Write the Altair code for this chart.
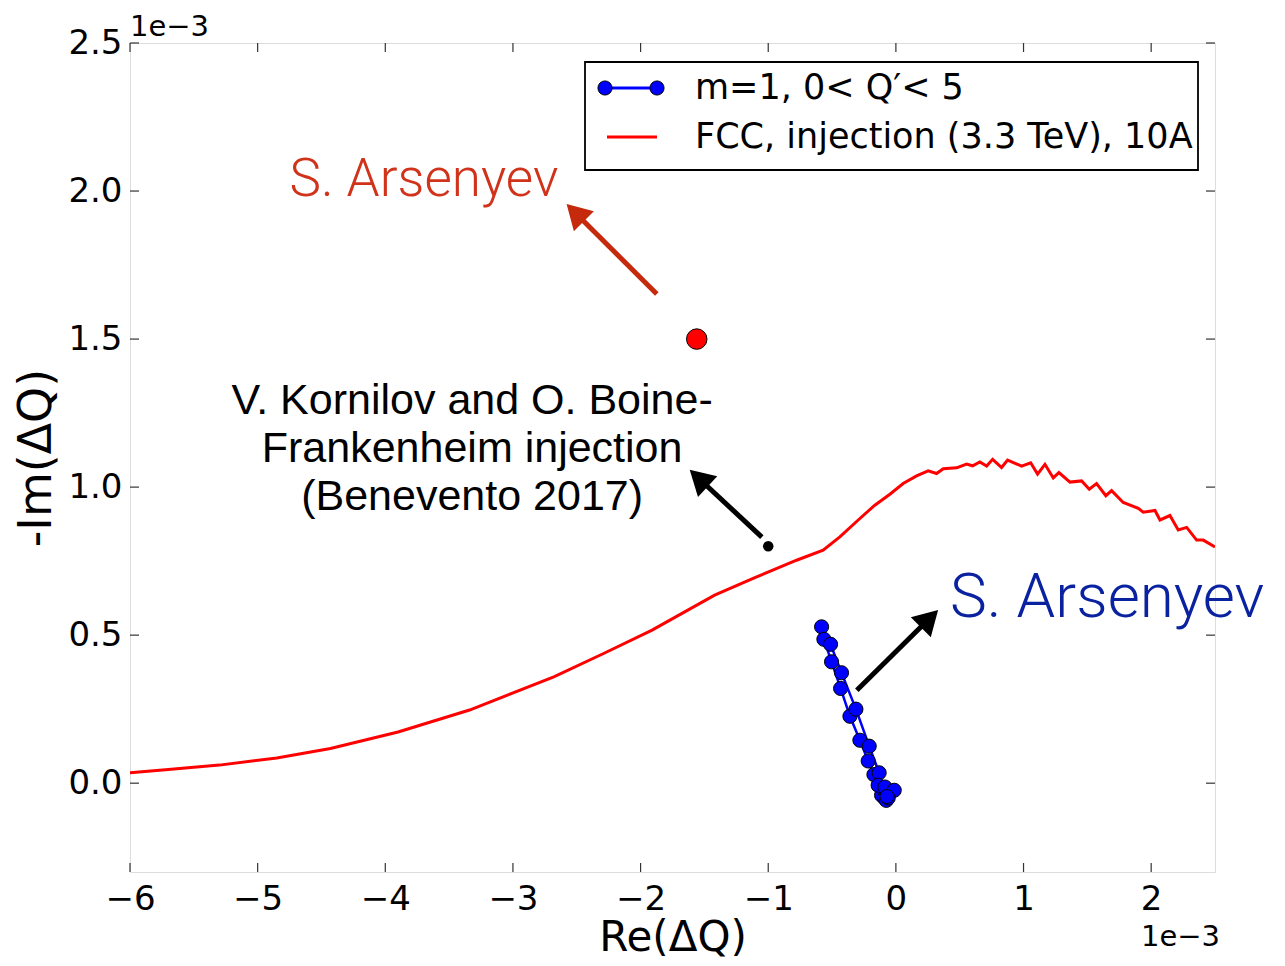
import altair as alt
import pandas as pd

W, H = 1085, 829

# ---- data (units of 1e-3) ----
fcc_re = [-6.0, -5.70, -5.30, -4.85, -4.43, -3.90, -3.34, -2.68, -2.29, -1.91, -1.42, -1.10,
          -0.778, -0.570, -0.439, -0.282, -0.165, -0.047, 0.057, 0.162, 0.253, 0.319, 0.371,
          0.476, 0.554, 0.601, 0.658, 0.711, 0.758, 0.828, 0.875, 0.985, 1.056, 1.110, 1.168,
          1.233, 1.277, 1.364, 1.455, 1.515, 1.572, 1.645, 1.690, 1.781, 1.899, 1.938, 2.030,
          2.069, 2.147, 2.212, 2.278, 2.356, 2.408, 2.50]
fcc_im = [0.035, 0.046, 0.061, 0.085, 0.117, 0.173, 0.247, 0.359, 0.438, 0.517, 0.635, 0.695,
          0.753, 0.787, 0.832, 0.894, 0.939, 0.976, 1.012, 1.038, 1.055, 1.046, 1.062,
          1.065, 1.078, 1.072, 1.085, 1.071, 1.094, 1.066, 1.091, 1.071, 1.082, 1.044, 1.077,
          1.031, 1.049, 1.017, 1.021, 0.993, 1.012, 0.971, 0.988, 0.948, 0.928, 0.915, 0.921,
          0.889, 0.904, 0.855, 0.864, 0.821, 0.821, 0.798]

m1_a_re = [-0.582, -0.564, -0.504, -0.433, -0.360, -0.282, -0.217, -0.172, -0.112, -0.090, -0.075]
m1_a_im = [0.528, 0.486, 0.410, 0.320, 0.226, 0.145, 0.075, 0.029, -0.041, -0.050, -0.058]
m1_b_re = [-0.512, -0.426, -0.313, -0.209, -0.131, -0.139, -0.086, -0.013, -0.060, -0.070]
m1_b_im = [0.469, 0.373, 0.250, 0.125, 0.035, -0.007, -0.013, -0.024, -0.050, -0.045]

arsenyev_red_re = [-1.56]
arsenyev_red_im = [1.50]
kornilov_re = [-1.0]
kornilov_im = [0.80]

x_ticks = [-6, -5, -4, -3, -2, -1, 0, 1, 2]
y_ticks = [0.0, 0.5, 1.0, 1.5, 2.0, 2.5]

# arrows: tail (x, y) -> head (x2, y2), head angle in degrees
arrow_x = [-1.873, -1.050, -0.306]
arrow_y = [1.652, 0.831, 0.314]
arrow_x2 = [-2.512, -1.545, 0.263]
arrow_y2 = [1.927, 1.030, 0.556]
arrow_angle = [315, 313, 45]
arrow_color = ["#c62a0c", "#000000", "#000000"]

legend_labels = ["m=1, 0< Q′< 5", "FCC, injection (3.3 TeV), 10A"]

XS = alt.Scale(domain=[-6, 2.5], nice=False, zero=False)
YS = alt.Scale(domain=[-0.3, 2.5], nice=False, zero=False)

fcc = pd.DataFrame({"re": fcc_re, "im": fcc_im, "i": range(len(fcc_re))})
m1 = pd.concat([
    pd.DataFrame({"re": m1_a_re, "im": m1_a_im, "branch": "a", "i": range(len(m1_a_re))}),
    pd.DataFrame({"re": m1_b_re, "im": m1_b_im, "branch": "b", "i": range(len(m1_b_re))}),
])
arrows = pd.DataFrame({"re": arrow_x, "im": arrow_y, "x2": arrow_x2, "y2": arrow_y2,
                       "angle": arrow_angle, "color": arrow_color})

x_enc = alt.X("re:Q", scale=XS, axis=alt.Axis(
    title="Re(ΔQ)", values=x_ticks, format="d", grid=False, ticks=False, tickSize=0,
    domain=False, labelFontSize=34, labelPadding=10, labelFont="DejaVu Sans",
    labelColor="black", labelFlush=False, labelOverlap=False,
    titleFont="DejaVu Sans", titleFontSize=42, titleFontWeight="normal",
    titleColor="black", titleY=78, titleBaseline="alphabetic"))
y_enc = alt.Y("im:Q", scale=YS, axis=alt.Axis(
    title="-Im(ΔQ)", values=y_ticks, format=".1f", grid=False, ticks=False, tickSize=0,
    domain=False, labelFontSize=34, labelPadding=8, labelFont="DejaVu Sans",
    labelColor="black", labelFlush=False, labelOverlap=False,
    titleFont="DejaVu Sans", titleFontSize=46, titleFontWeight="normal",
    titleColor="black", titleX=-80, titleY=H / 2, titleAngle=270, titleAlign="center",
    titleBaseline="alphabetic"))

X = alt.X("re:Q", scale=XS)
Y = alt.Y("im:Q", scale=YS)

fcc_line = alt.Chart(fcc).mark_line(color="#ff0000", strokeWidth=3, clip=True).encode(
    x=x_enc, y=y_enc, order="i:Q")

m1_line = alt.Chart(m1).mark_line(color="#0000ff", strokeWidth=2.5).encode(
    x=X, y=Y, detail="branch:N", order="i:Q")
m1_pts = alt.Chart(m1).mark_point(filled=True, fill="#0000ff", fillOpacity=1, stroke="black",
                                  strokeWidth=1, size=200, opacity=1).encode(x=X, y=Y)

red_pt = alt.Chart(pd.DataFrame({"re": arsenyev_red_re, "im": arsenyev_red_im})).mark_point(
    filled=True, fill="#ff0000", fillOpacity=1, stroke="black", strokeWidth=1, size=420,
    opacity=1).encode(x=X, y=Y)
black_pt = alt.Chart(pd.DataFrame({"re": kornilov_re, "im": kornilov_im})).mark_point(
    filled=True, fill="black", fillOpacity=1, size=110, opacity=1).encode(x=X, y=Y)

shafts = alt.Chart(arrows).mark_rule(strokeWidth=5).encode(
    x=X, y=Y, x2="x2:Q", y2="y2:Q", color=alt.Color("color:N", scale=None))
heads = alt.Chart(arrows).mark_point(shape="triangle-up", filled=True, size=800,
                                     fillOpacity=1, opacity=1).encode(
    x=alt.X("x2:Q", scale=XS), y=alt.Y("y2:Q", scale=YS),
    angle=alt.Angle("angle:Q", scale=None), color=alt.Color("color:N", scale=None))

# annotation texts (anchored in data coordinates)
ann_red = alt.Chart(pd.DataFrame({"t": ["S. Arsenyev"], "re": [-4.75], "im": [2.037]})).mark_text(
    font="Roboto", fontWeight=300, fontSize=53, color="#d0321a", align="left",
    baseline="middle").encode(x=X, y=Y, text="t:N")
ann_blue = alt.Chart(pd.DataFrame({"t": ["S. Arsenyev"], "re": [0.423], "im": [0.625]})).mark_text(
    font="Roboto", fontWeight=300, fontSize=62, color="#0a22a0", align="left",
    baseline="middle").encode(x=X, y=Y, text="t:N")
ann_k = alt.Chart(pd.DataFrame({
    "t": ["V. Kornilov and O. Boine-", "Frankenheim injection", "(Benevento 2017)"],
    "re": [-3.32, -3.32, -3.32], "im": [1.291, 1.128, 0.966]})).mark_text(
    font="Liberation Sans", fontSize=43, color="black", align="center",
    baseline="middle").encode(x=X, y=Y, text="t:N")

# inward ticks on all four sides
tick_x_df = pd.DataFrame({"re": x_ticks})
tick_y_df = pd.DataFrame({"im": y_ticks})
tk = dict(color="#333333", strokeWidth=1.2)
t_bottom = alt.Chart(tick_x_df).mark_rule(**tk).encode(x=X, y=alt.value(H - 9), y2=alt.value(H))
t_top = alt.Chart(tick_x_df).mark_rule(**tk).encode(x=X, y=alt.value(0), y2=alt.value(9))
t_left = alt.Chart(tick_y_df).mark_rule(**tk).encode(y=Y, x=alt.value(0), x2=alt.value(9))
t_right = alt.Chart(tick_y_df).mark_rule(**tk).encode(y=Y, x=alt.value(W - 9), x2=alt.value(W))

# offset texts
off_df = pd.DataFrame({"t": ["1e−3"]})
off_top = alt.Chart(off_df).mark_text(font="DejaVu Sans", fontSize=29, color="black",
                                      align="left", baseline="alphabetic").encode(
    x=alt.value(0), y=alt.value(-7), text="t:N")
off_bot = alt.Chart(off_df).mark_text(font="DejaVu Sans", fontSize=29, color="black",
                                      align="right", baseline="alphabetic").encode(
    x=alt.value(W + 5), y=alt.value(H + 74), text="t:N")

# legend
one = pd.DataFrame({"k": [0]})
leg_box = alt.Chart(one).mark_rect(fill="white", stroke="black", strokeWidth=1.8).encode(
    x=alt.value(455), x2=alt.value(1068), y=alt.value(19), y2=alt.value(127))
leg_blue_line = alt.Chart(one).mark_rule(color="#0000ff", strokeWidth=3).encode(
    x=alt.value(475), x2=alt.value(527), y=alt.value(45))
leg_blue_p1 = alt.Chart(one).mark_point(
    filled=True, fill="#0000ff", fillOpacity=1, stroke="black", strokeWidth=1, size=200,
    opacity=1).encode(x=alt.value(475), y=alt.value(45))
leg_blue_p2 = alt.Chart(one).mark_point(
    filled=True, fill="#0000ff", fillOpacity=1, stroke="black", strokeWidth=1, size=200,
    opacity=1).encode(x=alt.value(527), y=alt.value(45))
leg_red_line = alt.Chart(one).mark_rule(color="#ff0000", strokeWidth=3).encode(
    x=alt.value(477), x2=alt.value(527), y=alt.value(94))
leg_t1 = alt.Chart(pd.DataFrame({"t": [legend_labels[0]]})).mark_text(
    font="DejaVu Sans", fontSize=35, color="black", align="left", baseline="middle").encode(
    x=alt.value(565), y=alt.value(45), text="t:N")
leg_t2 = alt.Chart(pd.DataFrame({"t": [legend_labels[1]]})).mark_text(
    font="DejaVu Sans", fontSize=35, color="black", align="left", baseline="middle").encode(
    x=alt.value(565), y=alt.value(94), text="t:N")

chart = alt.layer(
    fcc_line, m1_line, m1_pts, red_pt, black_pt, shafts, heads,
    ann_red, ann_blue, ann_k,
    t_bottom, t_top, t_left, t_right, off_top, off_bot,
    leg_box, leg_blue_line, leg_blue_p1, leg_blue_p2, leg_red_line, leg_t1, leg_t2,
).properties(
    width=W, height=H,
    autosize=alt.AutoSizeParams(type="none"),
    padding={"left": 122, "top": 35, "right": 62, "bottom": 86},
).configure_view(stroke="black", strokeWidth=2).configure(background="white")

chart.save("out.html", embed_options={"renderer": "svg", "actions": False})
